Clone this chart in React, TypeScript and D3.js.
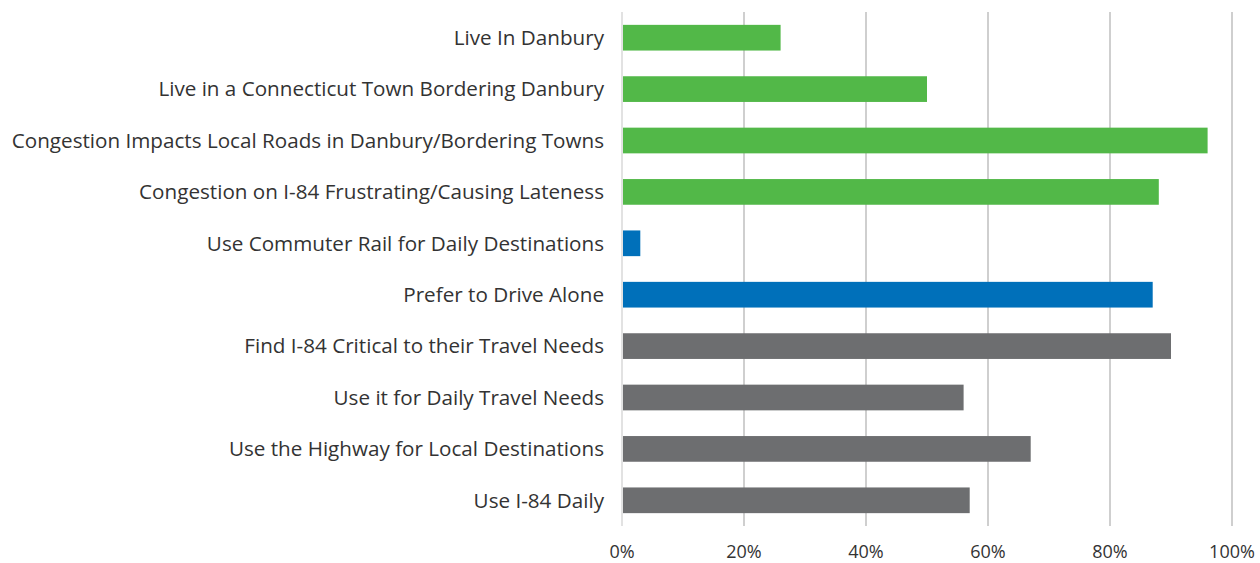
import React from "react";
import * as d3 from "d3";

const categories = [
  "Live In Danbury",
  "Live in a Connecticut Town Bordering Danbury",
  "Congestion Impacts Local Roads in Danbury/Bordering Towns",
  "Congestion on I-84 Frustrating/Causing Lateness",
  "Use Commuter Rail for Daily Destinations",
  "Prefer to Drive Alone",
  "Find I-84 Critical to their Travel Needs",
  "Use it for Daily Travel Needs",
  "Use the Highway for Local Destinations",
  "Use I-84 Daily",
];
const values = [0.26, 0.5, 0.96, 0.88, 0.03, 0.87, 0.9, 0.56, 0.67, 0.57];
const groups = ["green", "green", "green", "green", "blue", "blue", "gray", "gray", "gray", "gray"];
const tickValues = [0, 0.2, 0.4, 0.6, 0.8, 1.0];

const colorMap: Record<string, string> = {
  green: "#52B848",
  blue: "#0070BA",
  gray: "#6D6E70",
};

const W = 1260;
const H = 563;
const FONT = "'Open Sans', sans-serif";
const LABEL_SIZE = 20.65;
const TICK_SIZE = 18;

export default function App() {
  const x = d3.scaleLinear().domain([0, 1]).range([622, 1232]);
  const y = d3
    .scaleBand<string>()
    .domain(categories)
    .range([12, 526])
    .paddingInner(0.5)
    .paddingOuter(0.25);
  const fmt = d3.format(".0%");

  return (
    <svg
      width={W}
      height={H}
      style={{ position: "absolute", left: 0, top: 0, background: "#fff" }}
      fontFamily={FONT}
    >
      {tickValues.map((t) => (
        <line
          key={"g" + t}
          x1={x(t)}
          x2={x(t)}
          y1={12}
          y2={526}
          stroke={t === 0 ? "#D9D9D9" : "#BFBFBF"}
          strokeWidth={1.5}
        />
      ))}
      {categories.map((c, i) => (
        <rect
          key={c}
          x={x(0) + 1}
          y={y(c)!}
          width={x(values[i]) - x(0) - 1}
          height={y.bandwidth()}
          fill={colorMap[groups[i]]}
        />
      ))}
      {categories.map((c) => (
        <text
          key={"l" + c}
          x={604}
          y={y(c)! + y.bandwidth() / 2 + LABEL_SIZE * 0.357}
          textAnchor="end"
          fontSize={LABEL_SIZE}
          fill="#333333"
        >
          {c}
        </text>
      ))}
      {tickValues.map((t) => (
        <text
          key={"t" + t}
          x={x(t)}
          y={558}
          textAnchor="middle"
          fontSize={TICK_SIZE}
          fill="#333333"
        >
          {fmt(t)}
        </text>
      ))}
    </svg>
  );
}
